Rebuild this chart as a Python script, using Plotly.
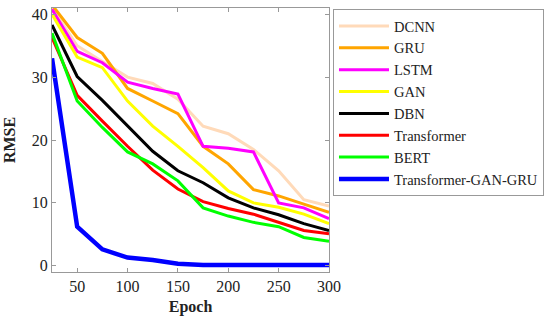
import plotly.graph_objects as go

epochs = [25, 50, 75, 100, 125, 150, 175, 200, 225, 250, 275, 300]

dcnn = [41.0, 35.0, 32.5, 30.0, 29.0, 26.5, 22.2, 21.0, 18.5, 15.1, 10.5, 9.5]
gru = [41.5, 36.3, 33.8, 28.2, 26.2, 24.2, 19.0, 16.2, 12.1, 11.1, 9.8, 8.5]
lstm = [40.8, 34.1, 32.3, 29.2, 28.2, 27.3, 19.0, 18.7, 18.1, 10.0, 9.2, 7.5]
gan = [40.0, 33.2, 31.5, 26.2, 22.2, 19.0, 15.6, 11.9, 10.0, 9.3, 8.2, 6.7]
dbn = [38.3, 30.1, 26.3, 22.2, 18.2, 15.1, 13.2, 10.8, 9.2, 8.1, 6.7, 5.6]
transformer = [36.3, 27.1, 23.0, 19.0, 15.2, 12.2, 10.2, 9.1, 8.2, 6.9, 5.6, 5.1]
bert = [37.0, 26.2, 22.0, 18.1, 16.2, 13.5, 9.2, 7.9, 6.9, 6.2, 4.5, 3.9]
tgg = [33.0, 6.2, 2.6, 1.3, 0.9, 0.3, 0.1, 0.1, 0.1, 0.1, 0.1, 0.1]

series_names = ["DCNN", "GRU", "LSTM", "GAN", "DBN", "Transformer", "BERT", "Transformer-GAN-GRU"]
series_values = [dcnn, gru, lstm, gan, dbn, transformer, bert, tgg]
series_colors = ["#FFDAB9", "#FFA500", "#FF00FF", "#FFFF00", "#000000", "#FF0000", "#00FF00", "#0000FF"]
series_widths = [3, 3, 3, 3, 3, 3, 3, 4.5]

x_ticks = [50, 100, 150, 200, 250, 300]
y_ticks = [0, 10, 20, 30, 40]

FONT = "Liberation Serif"

fig = go.Figure()
for name, vals, col, w in zip(series_names, series_values, series_colors, series_widths):
    fig.add_trace(go.Scatter(x=epochs, y=vals, mode="lines", name=name,
                             line=dict(color=col, width=w)))

axis_common = dict(showline=True, linecolor="#999999", linewidth=1, mirror="ticks",
                   ticks="inside", ticklen=4, tickcolor="#999999", showgrid=False,
                   zeroline=False, tickfont=dict(family=FONT, size=16, color="#222222"))

fig.update_xaxes(range=[25, 300], tickvals=x_ticks,
                 title=dict(text="<b>Epoch</b>", font=dict(family=FONT, size=16, color="#222222"), standoff=6),
                 **axis_common)
fig.update_yaxes(range=[-1, 41], tickvals=y_ticks,
                 title=dict(text="<b>RMSE</b>", font=dict(family=FONT, size=16, color="#222222"), standoff=12),
                 **axis_common)

fig.update_layout(
    width=550, height=320,
    margin=dict(l=52, r=221, t=6, b=48),
    paper_bgcolor="white", plot_bgcolor="white",
    showlegend=True,
    legend=dict(x=1.0144, y=0.996, xanchor="left", yanchor="top",
                bgcolor="white", bordercolor="#999999", borderwidth=1,
                font=dict(family=FONT, size=14.5, color="#222222"),
                itemwidth=50, tracegroupgap=0),
)

fig.write_html("out.html", config={"displayModeBar": False},
               post_script="document.body.style.margin='0px';")
